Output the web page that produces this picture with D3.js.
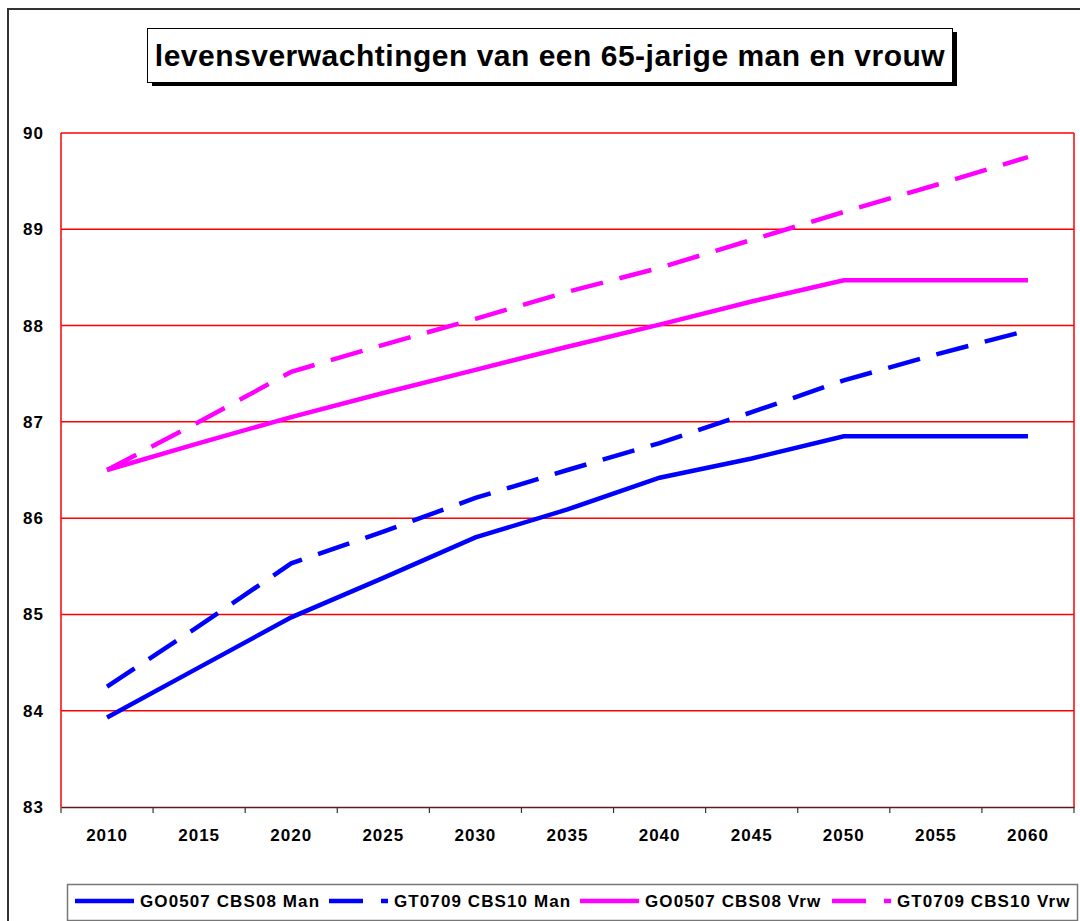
<!DOCTYPE html>
<html>
<head>
<meta charset="utf-8">
<script src="https://cdn.jsdelivr.net/npm/d3@7"></script>
<style>
  body { margin: 0; background: #fff; }
  text { font-family: "Liberation Sans", Arial, sans-serif; font-weight: bold; }
</style>
</head>
<body>
<svg id="LineChart"></svg>
<script>
// data
const years = ["2010", "2015", "2020", "2025", "2030", "2035", "2040", "2045", "2050", "2055", "2060"];
const yTicks = [83, 84, 85, 86, 87, 88, 89, 90];
const seriesNames = ["GO0507 CBS08 Man", "GT0709 CBS10 Man", "GO0507 CBS08 Vrw", "GT0709 CBS10 Vrw"];
const go0507Man = [83.93, 84.45, 84.97, 85.38, 85.80, 86.09, 86.42, 86.62, 86.85, 86.85, 86.85];
const gt0709Man = [84.25, 84.88, 85.53, 85.86, 86.21, 86.50, 86.78, 87.10, 87.43, 87.70, 87.95];
const go0507Vrw = [86.50, 86.78, 87.05, 87.30, 87.54, 87.78, 88.01, 88.25, 88.47, 88.47, 88.47];
const gt0709Vrw = [86.50, 87.00, 87.52, 87.80, 88.07, 88.35, 88.60, 88.89, 89.18, 89.46, 89.75];

const W = 1080, H = 921;
const margin = { top: 133, right: 6, bottom: 114, left: 61 },
  width = W - margin.left - margin.right,
  height = H - margin.top - margin.bottom;

const svg = d3.select("#LineChart")
  .attr("width", W)
  .attr("height", H);

// outer chart border
svg.append("rect")
  .attr("x", 8).attr("y", 9)
  .attr("width", W + 20).attr("height", H + 20)
  .attr("fill", "none")
  .attr("stroke", "#333")
  .attr("stroke-width", 2);

// title box with shadow
svg.append("rect")
  .attr("x", 152).attr("y", 32).attr("width", 805).attr("height", 54)
  .attr("fill", "#000");
svg.append("rect")
  .attr("x", 147.5).attr("y", 28.5).attr("width", 805).attr("height", 54)
  .attr("fill", "#fff").attr("stroke", "#000").attr("stroke-width", 1);
svg.append("text")
  .attr("x", 550).attr("y", 66)
  .attr("text-anchor", "middle")
  .style("font-size", "30px")
  .style("letter-spacing", "0.5px")
  .text("levensverwachtingen van een 65-jarige man en vrouw");

const chart = svg.append("g")
  .attr("transform", `translate(${margin.left},${margin.top})`);

const x = d3.scaleBand()
  .domain(years)
  .range([0, width]);

const y = d3.scaleLinear()
  .domain([83, 90])
  .range([height, 0]);

// gridlines
chart.append("g")
  .selectAll("line")
  .data(yTicks.slice(1))
  .enter()
  .append("line")
  .attr("x1", 0).attr("x2", width)
  .attr("y1", d => y(d)).attr("y2", d => y(d))
  .attr("stroke", "#ff0000")
  .attr("stroke-width", 1.5);

// plot area sides
chart.append("line").attr("x1", 0).attr("x2", 0).attr("y1", 0).attr("y2", height)
  .attr("stroke", "#ff0000").attr("stroke-width", 1.5);
chart.append("line").attr("x1", width).attr("x2", width).attr("y1", 0).attr("y2", height)
  .attr("stroke", "#ff0000").attr("stroke-width", 1.5);

// Y axis labels
const yAxis = chart.append("g")
  .call(d3.axisLeft(y).tickValues(yTicks).tickFormat(d3.format("d")).tickSize(0).tickPadding(17));
yAxis.select(".domain").remove();
yAxis.selectAll("text").style("font-size", "17px").style("letter-spacing", "1px").attr("fill", "#000");

// X axis with ticks between categories
const xAxis = chart.append("g")
  .attr("transform", `translate(0,${height})`)
  .call(d3.axisBottom(x).tickSize(0).tickPadding(22));
xAxis.select(".domain").attr("stroke", "#5a1a1a").attr("stroke-width", 1.5);
xAxis.selectAll("text").style("font-size", "17px").style("letter-spacing", "1px").attr("fill", "#000");
xAxis.selectAll(".bound")
  .data(d3.range(years.length + 1))
  .enter()
  .append("line")
  .attr("class", "bound")
  .attr("x1", i => i * x.step()).attr("x2", i => i * x.step())
  .attr("y1", 0).attr("y2", 6)
  .attr("stroke", "#333").attr("stroke-width", 1.2);

const series = [
  { name: seriesNames[0], values: go0507Man, color: "#0000ff", dash: null },
  { name: seriesNames[1], values: gt0709Man, color: "#0000ff", dash: "33,17" },
  { name: seriesNames[2], values: go0507Vrw, color: "#ff00ff", dash: null },
  { name: seriesNames[3], values: gt0709Vrw, color: "#ff00ff", dash: "33,17" }
];

const line = d3.line()
  .x((d, i) => x(years[i]) + x.bandwidth() / 2)
  .y(d => y(d));

chart.selectAll(".series")
  .data(series)
  .enter()
  .append("path")
  .attr("class", "series")
  .attr("d", d => line(d.values))
  .attr("fill", "none")
  .attr("stroke", d => d.color)
  .attr("stroke-width", 4.5)
  .attr("stroke-dasharray", d => d.dash);

// legend
const legend = svg.append("g");
legend.append("rect")
  .attr("x", 67.5).attr("y", 884.5).attr("width", 1010).attr("height", 36)
  .attr("fill", "#fff").attr("stroke", "#777").attr("stroke-width", 1.5);

const legendX = [75, 329, 580, 832];
const items = legend.selectAll(".item")
  .data(series)
  .enter()
  .append("g")
  .attr("class", "item")
  .attr("transform", (d, i) => `translate(${legendX[i]},901)`);

items.append("line")
  .attr("x1", 0).attr("x2", 59)
  .attr("y1", 0).attr("y2", 0)
  .attr("stroke", d => d.color)
  .attr("stroke-width", 4.5)
  .attr("stroke-dasharray", d => d.dash ? "34,18" : null);

items.append("text")
  .attr("x", 65).attr("y", 6)
  .style("font-size", "17px")
  .style("letter-spacing", "1.1px")
  .text(d => d.name);
</script>
</body>
</html>
